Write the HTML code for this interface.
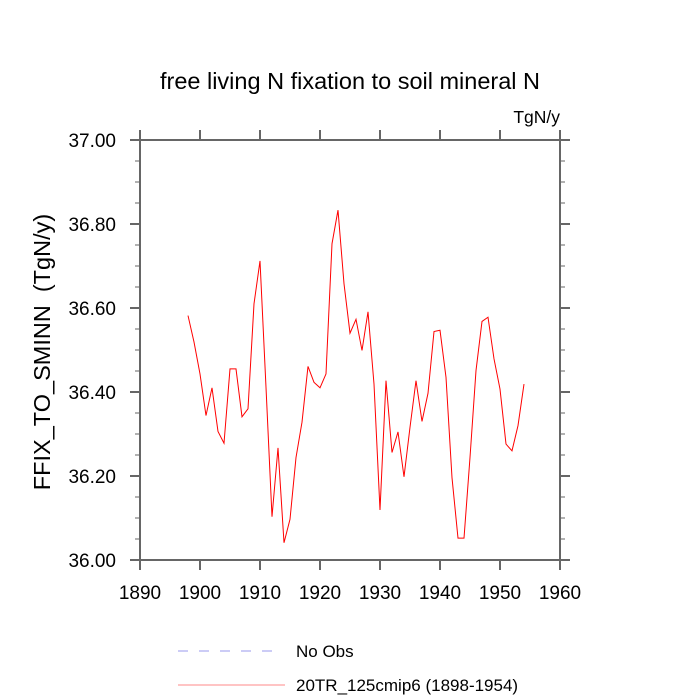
<!DOCTYPE html>
<html><head><meta charset="utf-8"><style>
html,body{margin:0;padding:0;background:#fff;}
svg{display:block;font-family:"Liberation Sans",Arial,sans-serif;}
</style></head><body>
<svg id="chart" width="700" height="700" viewBox="0 0 700 700">
<text x="350" y="89" text-anchor="middle" font-size="23.5">free living N fixation to soil mineral N</text>
<text x="560" y="123" text-anchor="end" font-size="17.5">TgN/y</text>
<text transform="translate(50,352) rotate(-90)" text-anchor="middle" font-size="23.5" style="white-space:pre">FFIX_TO_SMINN  (TgN/y)</text>
<g id="axes"></g>
<g id="series"></g>
<g>
<line x1="178" y1="651" x2="272" y2="651" stroke="#9999ee" stroke-width="1" stroke-dasharray="10,11"/>
<text x="296" y="657" font-size="17">No Obs</text>
<line x1="178" y1="685" x2="285" y2="685" stroke="#ff8888" stroke-width="1"/>
<text x="296" y="691" font-size="17">20TR_125cmip6 (1898-1954)</text>
</g>
</svg>
<script>
const startYear = 1898;
const values = [36.582,36.519,36.443,36.344,36.410,36.306,36.278,36.455,36.455,36.341,36.360,36.610,36.712,36.411,36.103,36.267,36.041,36.097,36.244,36.328,36.461,36.423,36.410,36.443,36.753,36.833,36.658,36.540,36.573,36.499,36.591,36.419,36.119,36.427,36.256,36.305,36.198,36.316,36.427,36.330,36.397,36.544,36.547,36.435,36.196,36.052,36.052,36.244,36.451,36.568,36.578,36.479,36.407,36.276,36.260,36.320,36.419];
const xTicks = [1890,1900,1910,1920,1930,1940,1950,1960];
const yTicks = [36.00,36.20,36.40,36.60,36.80,37.00];
const ns="http://www.w3.org/2000/svg";
const L=140,R=560,T=140,B=560;
const xs=v=>L+(v-1890)/(1960-1890)*(R-L);
const ys=v=>B-(v-36)/(37-36)*(B-T);
const axes=document.getElementById('axes');
function mk(tag,attrs,parent){const e=document.createElementNS(ns,tag);for(const k in attrs)e.setAttribute(k,attrs[k]);parent.appendChild(e);return e;}
const ac="#666";
const frame=mk('rect',{x:L,y:T,width:R-L,height:B-T,fill:"none",stroke:ac,"stroke-width":2},axes);


xTicks.forEach(t=>{
 const x=xs(t);
 const a=mk('line',{x1:x,y1:B,x2:x,y2:B+10,stroke:ac,"stroke-width":2},axes);
 
 
 const b=mk('line',{x1:x,y1:T,x2:x,y2:T-10,stroke:ac,"stroke-width":2},axes);
 
 
 const tx=mk('text',{x:x,y:B+39,"text-anchor":"middle","font-size":19},axes);
 tx.textContent=t;
 
 
});
yTicks.forEach(t=>{
 const y=ys(t);
 const a=mk('line',{x1:L,y1:y,x2:L-10,y2:y,stroke:ac,"stroke-width":2},axes);
 
 
 const b=mk('line',{x1:R,y1:y,x2:R+10,y2:y,stroke:ac,"stroke-width":2},axes);
 
 
 const tx=mk('text',{x:L-24,y:y+7,"text-anchor":"end","font-size":19},axes);
 tx.textContent=t.toFixed(2);
 
 
});
for(let v=36.05;v<37;v+=0.05){
 if(Math.abs(Math.round(v*5)-v*5)<1e-6)continue;
 const y=ys(v);
 const a=mk('line',{x1:L,y1:y,x2:L-5,y2:y,stroke:ac,"stroke-width":1},axes);
 
 
 const b=mk('line',{x1:R,y1:y,x2:R+5,y2:y,stroke:ac,"stroke-width":1},axes);
 
 
}
const pts=values.map((v,i)=>xs(startYear+i).toFixed(2)+","+ys(v).toFixed(2)).join(" ");
const pl=mk('polyline',{points:pts,fill:"none",stroke:"#ff0000","stroke-width":1},document.getElementById('series'));


</script>
</body></html>
